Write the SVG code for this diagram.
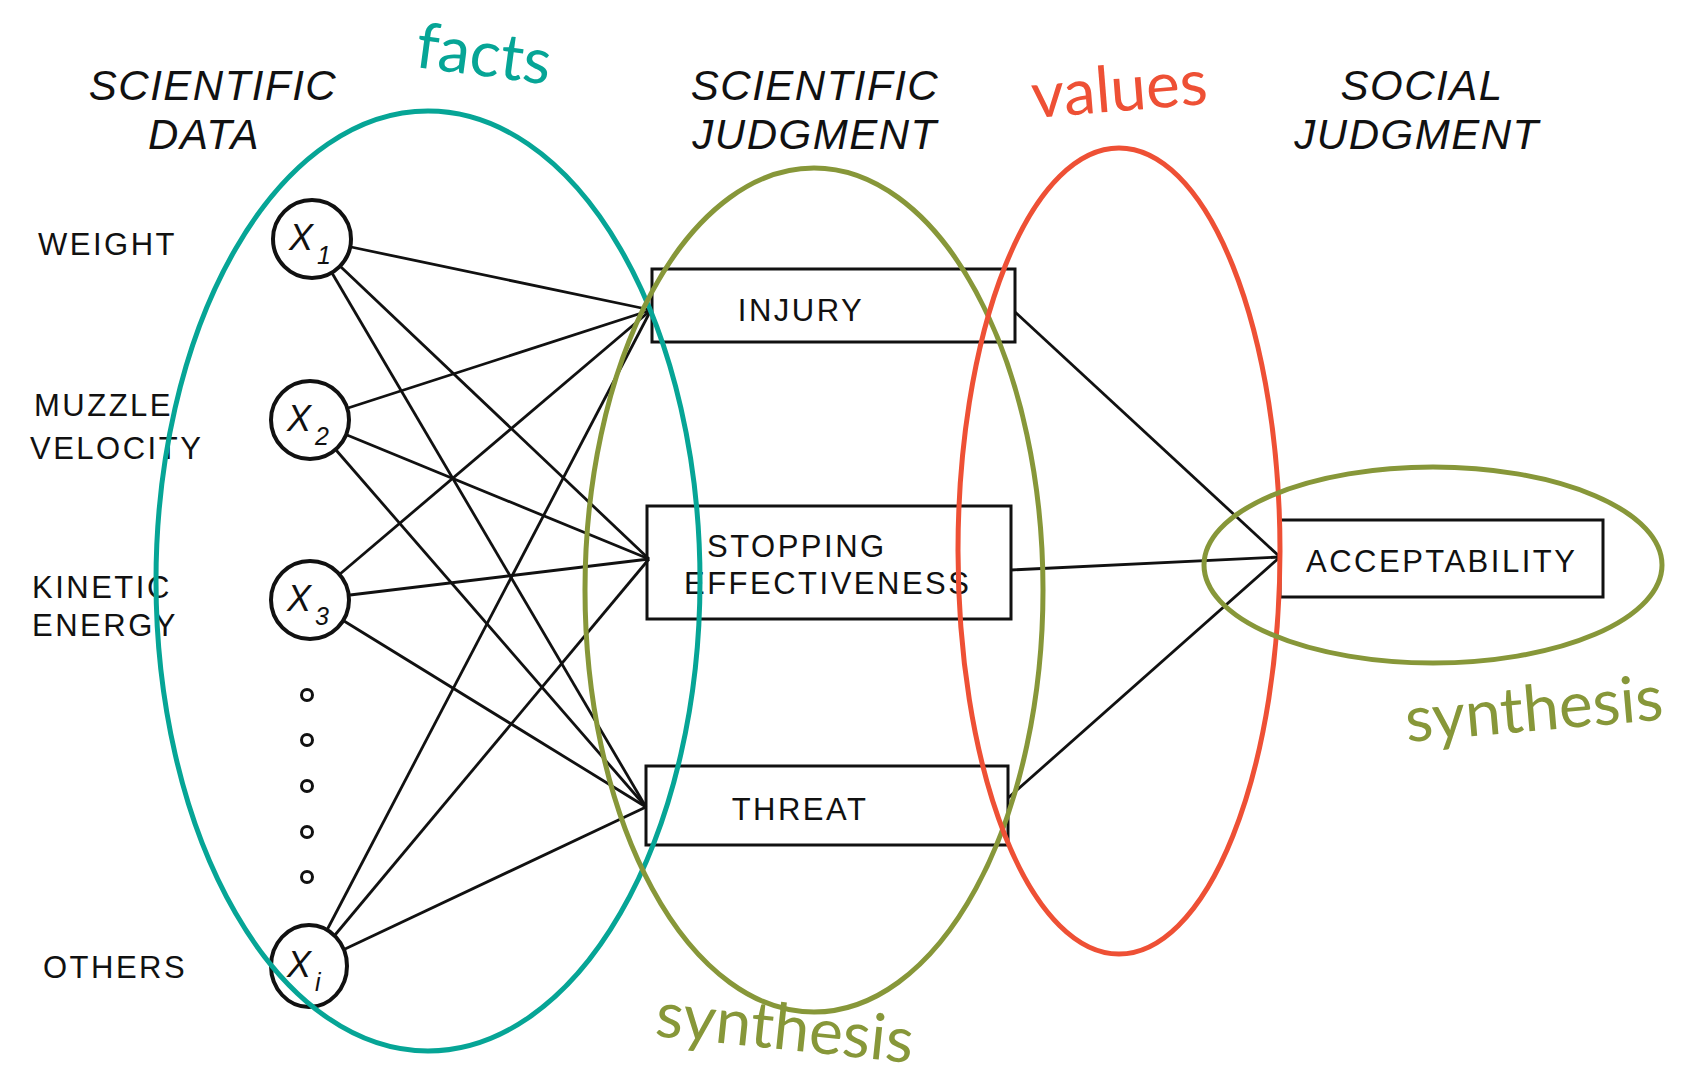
<svg xmlns="http://www.w3.org/2000/svg" width="1687" height="1079" viewBox="0 0 1687 1079">
<style>
.hdr{font-family:"Liberation Sans",Arial,sans-serif;font-style:italic;font-size:42px;fill:#111;text-anchor:middle;letter-spacing:1.5px}
.lbl{font-family:"Liberation Sans",Arial,sans-serif;font-size:31px;fill:#111;letter-spacing:2.5px}
.box{fill:none;stroke:#111;stroke-width:3}
.node{fill:#fff;stroke:#111;stroke-width:4}
.dot{fill:none;stroke:#111;stroke-width:3}
.xv{font-family:"Liberation Sans",Arial,sans-serif;font-style:italic;font-size:36px;fill:#111}
.xs{font-family:"Liberation Sans",Arial,sans-serif;font-style:italic;font-size:25px;fill:#111}
.edge{stroke:#111;stroke-width:2.8;fill:none}
.ann{font-family:Lato,"Open Sans",sans-serif;font-size:64px}
.teal{stroke:#06a596;fill:none;stroke-width:5}
.olive{stroke:#879739;fill:none;stroke-width:5}
.red{stroke:#ee5035;fill:none;stroke-width:5}
</style>

<g id="headers">
<text class="hdr" x="213" y="100">SCIENTIFIC</text>
<text class="hdr" x="204" y="149">DATA</text>
<text class="hdr" x="815" y="100">SCIENTIFIC</text>
<text class="hdr" x="815" y="149">JUDGMENT</text>
<text class="hdr" x="1422" y="100">SOCIAL</text>
<text class="hdr" x="1417" y="149">JUDGMENT</text>
</g>

<g id="labels">
<text class="lbl" x="38" y="255">WEIGHT</text>
<text class="lbl" x="34" y="416">MUZZLE</text>
<text class="lbl" x="30" y="459">VELOCITY</text>
<text class="lbl" x="32" y="598">KINETIC</text>
<text class="lbl" x="32" y="636">ENERGY</text>
<text class="lbl" x="43" y="978">OTHERS</text>
</g>

<g id="connectors">
<line class="edge" x1="351" y1="247" x2="651" y2="310"/>
<line class="edge" x1="341" y1="267" x2="649" y2="559"/>
<line class="edge" x1="332" y1="273" x2="646" y2="807"/>
<line class="edge" x1="348" y1="408" x2="651" y2="310"/>
<line class="edge" x1="347" y1="435" x2="649" y2="559"/>
<line class="edge" x1="336" y1="450" x2="646" y2="807"/>
<line class="edge" x1="340" y1="574" x2="651" y2="310"/>
<line class="edge" x1="350" y1="595" x2="649" y2="559"/>
<line class="edge" x1="344" y1="621" x2="646" y2="807"/>
<line class="edge" x1="327" y1="930" x2="651" y2="310"/>
<line class="edge" x1="335" y1="935" x2="649" y2="559"/>
<line class="edge" x1="345" y1="949" x2="646" y2="807"/>
<line class="edge" x1="1015" y1="312" x2="1280" y2="557"/>
<line class="edge" x1="1011" y1="570" x2="1280" y2="557"/>
<line class="edge" x1="1008" y1="798" x2="1280" y2="557"/>
</g>

<g id="node-x1">
<circle class="node" cx="312" cy="239" r="39"/>
<text class="xv" x="289" y="250">X</text><text class="xs" x="317" y="264">1</text>
</g>
<g id="node-x2">
<circle class="node" cx="310" cy="420" r="39"/>
<text class="xv" x="287" y="431">X</text><text class="xs" x="315" y="445">2</text>
</g>
<g id="node-x3">
<circle class="node" cx="310" cy="600" r="39"/>
<text class="xv" x="287" y="611">X</text><text class="xs" x="315" y="625">3</text>
</g>
<g id="node-dots">
<circle class="dot" cx="307" cy="695" r="5.5"/>
<circle class="dot" cx="307" cy="740" r="5.5"/>
<circle class="dot" cx="307" cy="786" r="5.5"/>
<circle class="dot" cx="307" cy="832" r="5.5"/>
<circle class="dot" cx="307" cy="877" r="5.5"/>
</g>
<g id="node-xi">
<ellipse class="node" cx="309" cy="966" rx="38" ry="41"/>
<text class="xv" x="287" y="977">X</text><text class="xs" x="315" y="991">i</text>
</g>

<g id="node-injury">
<rect class="box" x="652" y="269" width="363" height="73"/>
<text class="lbl" x="801" y="321" text-anchor="middle">INJURY</text>
</g>
<g id="node-stopping">
<rect class="box" x="647" y="506" width="364" height="113"/>
<text class="lbl" x="707" y="557">STOPPING</text>
<text class="lbl" x="684" y="594">EFFECTIVENESS</text>
</g>
<g id="node-threat">
<rect class="box" x="646" y="766" width="362" height="79"/>
<text class="lbl" x="800" y="820" text-anchor="middle">THREAT</text>
</g>
<g id="node-acceptability">
<rect class="box" x="1280" y="520" width="323" height="77"/>
<text class="lbl" x="1306" y="572">ACCEPTABILITY</text>
</g>

<g id="annotations">
<ellipse class="teal" cx="428" cy="581" rx="272" ry="470"/>
<ellipse class="olive" cx="814" cy="590" rx="229" ry="422"/>
<ellipse class="red" cx="1119" cy="551" rx="161" ry="403"/>
<ellipse class="olive" cx="1433" cy="565" rx="229" ry="98"/>
<text class="ann" fill="#06a596" transform="translate(414 67) rotate(7.5)">facts</text>
<text class="ann" fill="#ee5035" transform="translate(1033 118) rotate(-4.6)">values</text>
<text class="ann" fill="#879739" transform="translate(654 1036) rotate(6)">synthesis</text>
<text class="ann" fill="#879739" transform="translate(1407 742) rotate(-5)">synthesis</text>
</g>
</svg>
